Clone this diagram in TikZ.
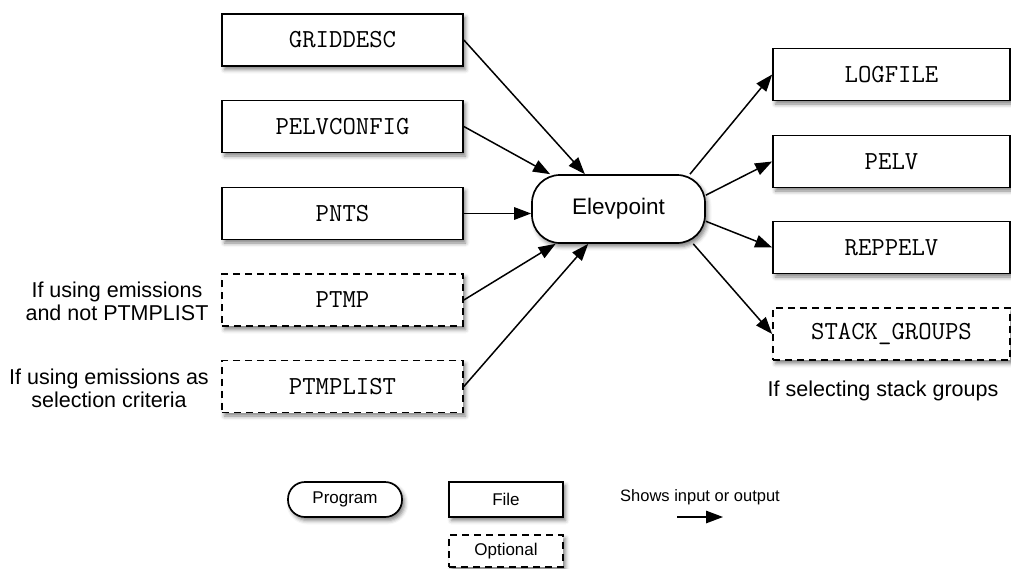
\documentclass[tikz,border=0pt]{standalone}
\usepackage{fontspec}
\setmainfont{Liberation Sans}
\usetikzlibrary{arrows.meta,shadows.blur}
\begin{document}
\begin{tikzpicture}[x=1pt,y=-1pt,
  shadowed/.style={blur shadow={shadow xshift=2.5pt, shadow yshift=-3.5pt, shadow blur radius=4pt, shadow opacity=50}},
  filebox/.style={draw, line width=1.7pt, fill=white, minimum width=241pt, minimum height=52pt, inner sep=0pt, font=\fontsize{26}{30}\ttfamily\addfontfeatures{FakeBold=0.6}, shadowed},
  optbox/.style={filebox, dash pattern=on 7pt off 5pt},
  prog/.style={draw, line width=1.7pt, fill=white, inner sep=0pt, font=\fontsize{22.5}{27}\selectfont, shadowed},
  conn/.style={line width=1.5pt, -{Triangle[length=17pt,width=12.5pt]}},
  lbl/.style={align=center, font=\fontsize{21.5}{23.5}\selectfont},
  legtext/.style={font=\fontsize{17}{20}\selectfont}
]
\useasboundingbox (0,0) rectangle (1011,568);

% inputs
\node[filebox] (grid)  at (342.5,40)    {GRIDDESC};
\node[filebox] (pelvc) at (342.5,126.5) {PELVCONFIG};
\node[filebox] (pnts)  at (342.5,213.5) {PNTS};
\node[optbox]  (ptmp)  at (342.5,300)   {PTMP};
\node[optbox]  (ptmpl) at (342.5,386.5) {PTMPLIST};

% program
\node[prog, minimum width=173pt, minimum height=68pt, rounded corners=28pt] (e) at (618.5,209) {Elevpoint};

% outputs
\node[filebox, minimum width=237pt] (log)   at (891.5,74.5)  {LOGFILE};
\node[filebox, minimum width=237pt] (pelv)  at (891.5,161.5) {PELV};
\node[filebox, minimum width=237pt] (rep)   at (891.5,247.5) {REPPELV};
\node[optbox,  minimum width=237pt] (stack) at (891.5,334)   {STACK\_GROUPS};

% labels
\node[lbl] (l1) at (117,301.5) {If using emissions\\and not PTMPLIST};
\node[lbl] (l2) at (109,388.5) {If using emissions as\\selection criteria};
\node[lbl] (l3) at (883,391) {If selecting stack groups};

% connectors
\draw[conn] (grid.east) -- (e.134);
\draw[conn] (pelvc.east) -- (e.153);
\draw[conn] (pnts.east) -- (pnts.east -| e.west);
\draw[conn] (ptmp.east) -- (e.209);
\draw[conn] (ptmpl.east) -- (e.229);
\draw[conn] (e.26) -- (log.west);
\draw[conn] (e.9) -- (pelv.west);
\draw[conn] (e.352) -- (rep.west);
\draw[conn] (e.335) -- (stack.west);

% legend
\node[prog, legtext, minimum width=114pt, minimum height=35pt, rounded corners=17pt] (lp) at (345,499.5) {Program};
\node[filebox, legtext, minimum width=114pt, minimum height=35pt] (lf) at (506,499.5) {File};
\node[optbox, legtext, minimum width=114pt, minimum height=32pt] (lo) at (506,551) {Optional};
\node[font=\fontsize{16.5}{20}\selectfont] (ls) at (700,497) {Shows input or output};
\coordinate (a1) at (677,517);
\coordinate (a2) at (723,517);
\draw[conn, line width=1.3pt] (a1) -- (a2);
\end{tikzpicture}
\end{document}
